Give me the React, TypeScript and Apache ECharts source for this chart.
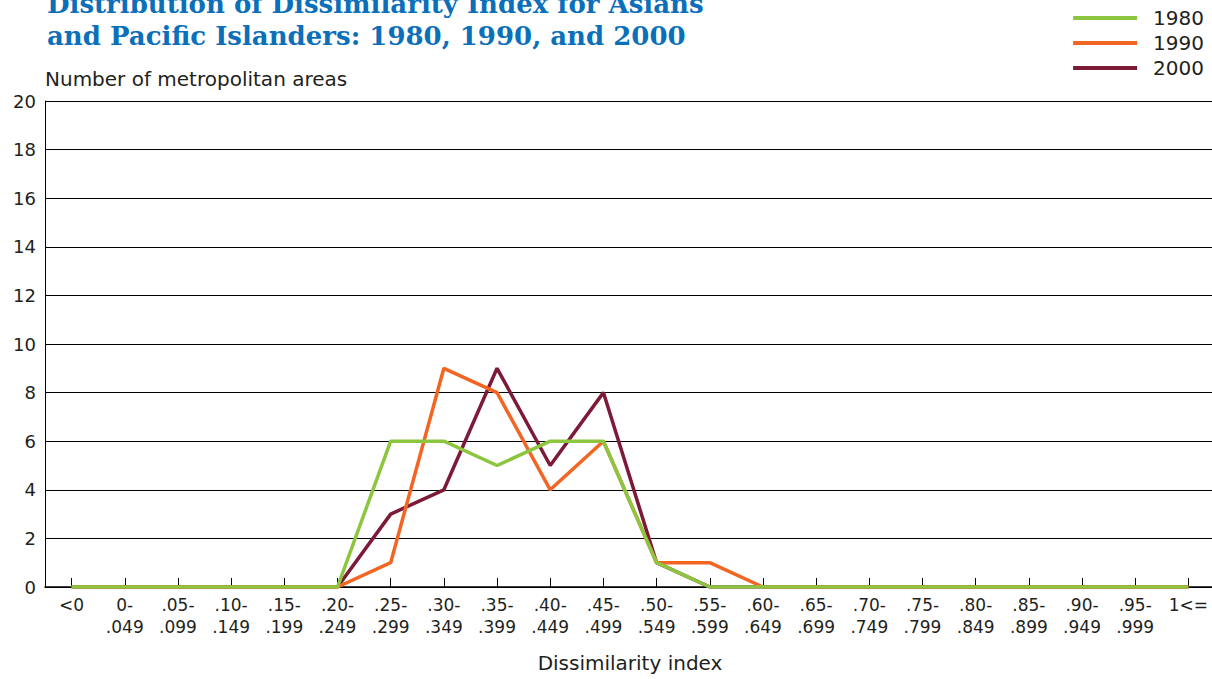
import React, { useEffect, useRef } from "react";
import * as echarts from "echarts";

const categories = [
  "<0", "0-\n.049", ".05-\n.099", ".10-\n.149", ".15-\n.199", ".20-\n.249",
  ".25-\n.299", ".30-\n.349", ".35-\n.399", ".40-\n.449", ".45-\n.499", ".50-\n.549",
  ".55-\n.599", ".60-\n.649", ".65-\n.699", ".70-\n.749", ".75-\n.799", ".80-\n.849",
  ".85-\n.899", ".90-\n.949", ".95-\n.999", "1<=",
];

const values1980 = [0, 0, 0, 0, 0, 0, 6, 6, 5, 6, 6, 1, 0, 0, 0, 0, 0, 0, 0, 0, 0, 0];
const values1990 = [0, 0, 0, 0, 0, 0, 1, 9, 8, 4, 6, 1, 1, 0, 0, 0, 0, 0, 0, 0, 0, 0];
const values2000 = [0, 0, 0, 0, 0, 0, 3, 4, 9, 5, 8, 1, 0, 0, 0, 0, 0, 0, 0, 0, 0, 0];

const seriesNames = ["1980", "1990", "2000"];
const yTicks = { min: 0, max: 20, interval: 2 };

const titleText = "Distribution of Dissimilarity Index for Asians\nand Pacific Islanders: 1980, 1990, and 2000";
const yAxisName = "Number of metropolitan areas";
const xAxisName = "Dissimilarity index";

const FONT = "DejaVu Sans";

export default function App() {
  const ref = useRef<HTMLDivElement>(null);
  useEffect(() => {
    if (!ref.current) return;
    const chart = echarts.init(ref.current, null, { renderer: "svg" });
    const colors = ["#8cc63f", "#f26522", "#7d1a38"];
    chart.setOption({
      animation: false,
      backgroundColor: "#ffffff",
      textStyle: { fontFamily: FONT },
      title: {
        text: titleText,
        left: 42,
        top: -17,
        textStyle: {
          fontFamily: "DejaVu Serif",
          fontWeight: "bold",
          fontSize: 26,
          lineHeight: 32,
          color: "#0b6fba",
        },
      },
      legend: {
        orient: "vertical",
        right: 3,
        top: 3,
        itemWidth: 64,
        itemHeight: 4,
        itemGap: 5,
        icon: "rect",
        data: seriesNames,
        textStyle: { fontFamily: FONT, fontSize: 20, color: "#231f20", padding: [0, 0, 0, 11] },
        selectedMode: false,
      },
      grid: { left: 45, top: 101, width: 1170, bottom: 92, containLabel: false, outerBoundsMode: "none" },
      xAxis: {
        type: "category",
        data: categories,
        boundaryGap: true,
        name: xAxisName,
        nameLocation: "middle",
        nameGap: 66,
        nameTextStyle: { fontFamily: FONT, fontSize: 20, color: "#231f20" },
        axisLine: { show: true, lineStyle: { color: "#000000", width: 1.5 } },
        axisTick: { show: true, alignWithLabel: true, inside: true, length: 9, lineStyle: { color: "#000000" } },
        axisLabel: {
          interval: 0,
          margin: 7,
          fontFamily: FONT,
          fontSize: 17,
          lineHeight: 22,
          color: "#231f20",
        },
        splitLine: { show: false },
      },
      yAxis: {
        type: "value",
        min: yTicks.min,
        max: yTicks.max,
        interval: yTicks.interval,
        name: yAxisName,
        nameLocation: "end",
        nameGap: 22,
        nameTextStyle: { fontFamily: FONT, fontSize: 20, color: "#231f20", align: "left", verticalAlign: "middle" },
        axisLine: { show: true, lineStyle: { color: "#000000", width: 1 } },
        axisTick: { show: false },
        axisLabel: { margin: 9, fontFamily: FONT, fontSize: 18, color: "#231f20" },
        splitLine: { show: true, lineStyle: { color: "#000000", width: 1 } },
      },
      series: [
        {
          name: seriesNames[0], type: "line", data: values1980, z: 5,
          symbol: "none", lineStyle: { width: 3.5, color: colors[0] }, itemStyle: { color: colors[0] },
        },
        {
          name: seriesNames[1], type: "line", data: values1990, z: 4,
          symbol: "none", lineStyle: { width: 3.5, color: colors[1] }, itemStyle: { color: colors[1] },
        },
        {
          name: seriesNames[2], type: "line", data: values2000, z: 3,
          symbol: "none", lineStyle: { width: 3.5, color: colors[2] }, itemStyle: { color: colors[2] },
        },
      ],
    });
    return () => chart.dispose();
  }, []);
  return (
    <div
      ref={ref}
      style={{ position: "absolute", left: 0, top: 0, width: 1212, height: 679 }}
    />
  );
}
